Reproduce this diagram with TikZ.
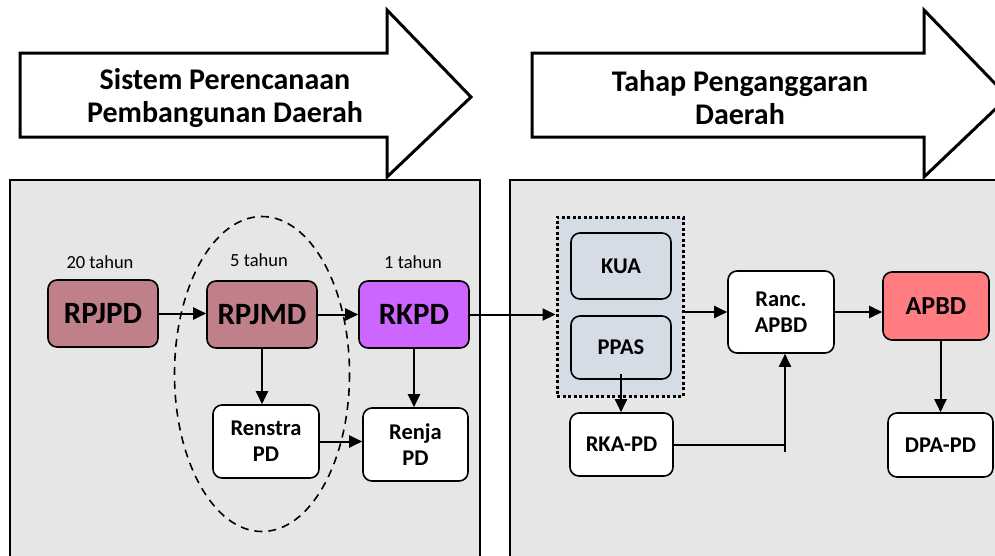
\documentclass[tikz,border=0pt]{standalone}
\usepackage{fontspec}
\setmainfont{Carlito}
\usepackage{xcolor}
\usepackage{tikz}
\usetikzlibrary{arrows.meta,positioning,shapes}
\definecolor{panelgray}{HTML}{E6E6E6}
\definecolor{rpjcol}{HTML}{C0808A}
\definecolor{rkpdcol}{HTML}{CC66FF}
\definecolor{apbdcol}{HTML}{FF7C80}
\definecolor{grupcol}{HTML}{D6DCE5}

\begin{document}
\begin{tikzpicture}[%
  x=1pt,y=-1pt,
  panel/.style={draw=black,line width=2pt,fill=panelgray},
  banner/.style={draw=black,line width=3pt,fill=white,line join=miter},
  judul/.style={align=center,font=\fontsize{30}{33}\selectfont\bfseries},
  box/.style={draw=black,line width=1.6pt,rounded corners=9pt,align=center,inner sep=0pt},
  big/.style={box,minimum width=110pt,minimum height=67pt,font=\fontsize{31}{36}\selectfont\bfseries},
  mid/.style={box,fill=white,font=\fontsize{22.5}{26}\selectfont\bfseries},
  grup/.style={draw=black,line width=3pt,dash pattern=on 3pt off 2.5pt,fill=grupcol,minimum width=126pt,minimum height=179pt},
  ket/.style={font=\fontsize{18.5}{22}\selectfont},
  arr/.style={line width=2pt,-{Triangle[length=13pt,width=12pt]}},
  garis/.style={line width=2pt}
]
\useasboundingbox (0,0) rectangle (995,555);
\clip (0,0) rectangle (995,555);

\draw[panel] (10,180) rectangle (480,575);
\draw[panel] (510,180) rectangle (1010,575);

\draw[banner] (20,53) -- (387,53) -- (387,10) -- (471,97) -- (387,177) -- (387,137) -- (20,137) -- cycle;
\draw[banner] (532,53) -- (924,53) -- (924,10) -- (1008,97) -- (924,177) -- (924,137) -- (532,137) -- cycle;
\node[judul] (judul1) at (225,98) {Sistem Perencanaan\\Pembangunan Daerah};
\node[judul] (judul2) at (740,98) {Tahap Penganggaran\\Daerah};

\draw[line width=1.6pt,dash pattern=on 8pt off 6pt] (262,374) ellipse [x radius=87.5,y radius=157.5];

\node[big,fill=rpjcol] (rpjpd) at (103,313.5) {RPJPD};
\node[big,fill=rpjcol] (rpjmd) at (262,314.5) {RPJMD};
\node[big,fill=rkpdcol] (rkpd) at (414,314.5) {RKPD};
\node[ket] (t20) at (100,262) {20 tahun};
\node[ket] (t5) at (259,260) {5 tahun};
\node[ket] (t1) at (413,262) {1 tahun};
\node[mid,minimum width=106pt,minimum height=73pt] (renstra) at (266,441.5) {Renstra\\PD};
\node[mid,minimum width=105pt,minimum height=73pt] (renja) at (415.5,444.5) {Renja\\PD};

\node[grup] (anggaran) at (620,306.5) {};
\node[mid,fill=grupcol,minimum width=100pt,minimum height=66pt] (kua) at (621,266) {KUA};
\node[mid,fill=grupcol,minimum width=100pt,minimum height=63pt] (ppas) at (621,347.5) {PPAS};
\node[mid,minimum width=103pt,minimum height=63pt] (rka) at (621.5,444.5) {RKA-PD};
\node[mid,minimum width=106pt,minimum height=82pt] (ranc) at (781,312) {Ranc.\\APBD};
\node[box,fill=apbdcol,minimum width=106pt,minimum height=68pt,font=\fontsize{26}{31}\selectfont\bfseries] (apbd) at (936,306) {APBD};
\node[mid,minimum width=105pt,minimum height=64pt] (dpa) at (940.5,445) {DPA-PD};
\coordinate (sambung) at (785,452);

\draw[arr] (rpjpd.east) -- (rpjpd.east -| rpjmd.west);
\draw[arr] (rpjmd.east) -- (rpjmd.east -| rkpd.west);
\draw[arr] (rkpd.east) -- (rkpd.east -| anggaran.west);
\draw[arr] (rpjmd.south) -- (rpjmd.south |- renstra.north);
\draw[arr] (rkpd.south) -- (rkpd.south |- renja.north);
\draw[arr] (renstra.east) -- (renstra.east -| renja.west);
\draw[arr] (anggaran.east |- ranc.west) -- (ranc.west);
\draw[arr] (ranc.east) -- (ranc.east -| apbd.west);
\draw[arr] ([yshift=6pt]ppas.south) -- (ppas.south |- rka.north);
\draw[garis] (rka.east) -- (rka.east -| sambung);
\draw[arr] (sambung) -- (sambung |- ranc.south);
\draw[arr] (dpa.north |- apbd.south) -- (dpa.north);
\end{tikzpicture}
\end{document}
